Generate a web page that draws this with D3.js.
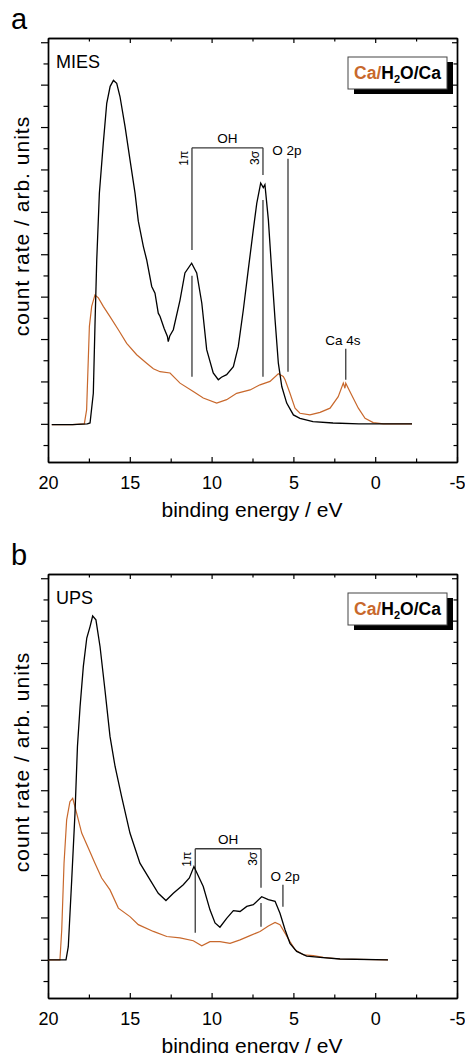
<!DOCTYPE html>
<html>
<head>
<meta charset="utf-8">
<script src="https://cdnjs.cloudflare.com/ajax/libs/d3/7.8.5/d3.min.js"></script>
<style>
    body { margin: 0; background: #fff; }
    text { font-family: "Liberation Sans", Arial, sans-serif; }
</style>
</head>
<body>
<div id="chart"></div>
<script>
// [binding energy (eV), counts (arb.)]
var miesWater = [
    [19.77, -0.02], [18.5, -0.02], [17.6, 0], [17.43, 0.02], [17.23, 0.72], [17.13, 2.3], [17.02, 3.87],
    [16.86, 5.44], [16.62, 6.62], [16.41, 7.56], [16.2, 7.96], [16.0, 8.1], [15.8, 8.03], [15.6, 7.72],
    [15.29, 7.01], [14.99, 6.23], [14.68, 5.44], [14.48, 4.78], [14.17, 4.18], [13.97, 3.87], [13.66, 3.24],
    [13.46, 3.08], [13.26, 2.61], [13.15, 2.53], [12.9, 2.25], [12.7, 2.06], [12.65, 1.94], [12.55, 2.08],
    [12.34, 2.22], [11.93, 2.92], [11.63, 3.56], [11.22, 3.79], [10.91, 3.56], [10.6, 2.85], [10.3, 1.75],
    [9.9, 1.2], [9.59, 1.04], [9.4, 1.1], [9.08, 1.16], [8.67, 1.35], [8.37, 1.82], [8.06, 2.69], [7.76, 3.63],
    [7.45, 4.58], [7.24, 5.2], [7.0, 5.68], [6.84, 5.57], [6.74, 5.64], [6.53, 4.81], [6.33, 3.63], [6.12, 2.45],
    [5.92, 1.43], [5.71, 0.88], [5.41, 0.49], [5.0, 0.21], [4.6, 0.13], [3.8, 0.05], [2.58, 0.02], [1.0, 0],
    [-2.25, 0]
];
var miesCa = [
    [19.77, -0.02], [18.5, -0.02], [17.78, 0], [17.64, 0.33], [17.47, 2.3], [17.33, 2.77], [17.13, 3.04],
    [16.92, 2.97], [16.62, 2.77], [16.21, 2.53], [15.7, 2.22], [15.19, 1.9], [14.58, 1.63], [13.97, 1.43],
    [13.56, 1.3], [13.15, 1.23], [12.54, 1.2], [11.93, 0.96], [11.12, 0.76], [10.51, 0.61], [9.69, 0.49],
    [9.08, 0.57], [8.47, 0.72], [7.65, 0.8], [7.04, 0.92], [6.43, 1.0], [5.92, 1.18], [5.62, 1.12], [5.51, 1.04],
    [5.21, 0.72], [4.9, 0.37], [4.6, 0.25], [3.99, 0.21], [3.37, 0.27], [2.76, 0.37], [2.26, 0.64], [1.95, 0.96],
    [1.85, 0.84], [1.8, 0.96], [1.44, 0.68], [1.03, 0.37], [0.62, 0.13], [0.12, 0.03], [-0.5, 0], [-2.25, 0]
];
var upsWater = [
    [20, 0], [18.9, 0], [18.76, 0.31], [18.55, 1.89], [18.35, 3.46], [18.2, 5.03], [18.04, 5.97], [17.84, 6.92],
    [17.63, 7.59], [17.43, 7.86], [17.27, 8.11], [17.07, 8.02], [16.82, 7.39], [16.52, 6.37], [16.21, 5.27],
    [15.9, 4.56], [15.5, 3.85], [14.99, 2.99], [14.38, 2.28], [13.77, 1.89], [13.26, 1.57], [12.79, 1.4],
    [12.34, 1.57], [11.73, 1.77], [11.36, 1.93], [11.08, 2.2], [10.51, 1.73], [10.1, 1.18], [9.79, 0.87],
    [9.49, 0.77], [9.08, 0.98], [8.67, 1.16], [8.26, 1.14], [7.85, 1.26], [7.45, 1.3], [6.94, 1.49], [6.53, 1.42],
    [6.12, 1.38], [5.82, 1.1], [5.51, 0.71], [5.21, 0.39], [4.8, 0.2], [4.19, 0.09], [3.37, 0.06], [2.15, 0.02],
    [-0.78, 0]
];
var upsCa = [
    [20, 0], [19.27, 0], [19.16, 0.71], [19.02, 2.28], [18.86, 3.3], [18.66, 3.73], [18.49, 3.81], [18.25, 3.46],
    [17.94, 2.99], [17.53, 2.63], [17.13, 2.28], [16.72, 1.93], [16.21, 1.65], [15.7, 1.22], [14.99, 1.02],
    [14.48, 0.83], [13.56, 0.67], [12.74, 0.55], [11.93, 0.52], [11.12, 0.45], [10.6, 0.33], [10.1, 0.43],
    [9.49, 0.43], [8.87, 0.39], [8.26, 0.47], [7.65, 0.57], [7.04, 0.67], [6.53, 0.8], [6.12, 0.88], [5.82, 0.83],
    [5.51, 0.63], [5.21, 0.43], [4.9, 0.24], [4.4, 0.12], [3.78, 0.1], [3.17, 0.06], [2.15, 0.02], [-0.78, 0]
];

var xMajor = [20, 15, 10, 5, 0, -5],
    xMinor = [17.5, 12.5, 7.5, 2.5, -2.5],
    yMajor = [0, 1, 2, 3, 4, 5, 6, 7, 8, 9],
    yMinor = [-0.5, 0.5, 1.5, 2.5, 3.5, 4.5, 5.5, 6.5, 7.5, 8.5];

// OH bracket (1pi, 3sigma) and O 2p / Ca 4s markers, energies in eV
var miesMarks = { pi: 11.2, sigma: 6.86, o2p: 5.33, ca4s: 1.8 },
    upsMarks = { pi: 11.0, sigma: 6.98, o2p: 5.64 };

var width = 465,
    height = 1053,
    orange = "#c8682c",
    markColor = "#3a3a3a";

var svg = d3.select("#chart").append("svg").attr("width", width).attr("height", height);
svg.append("rect").attr("width", width).attr("height", height).attr("fill", "#fff");

function drawPanel(top, letter, method, water, ca, marks, annot) {
    var g = svg.append("g");
    var x = d3.scaleLinear().domain([20, -5]).range([48, 457]);
    var y = d3.scaleLinear().domain([-0.9, 9.1]).range([top + 424, top]);
    var bottom = top + 424;

    // axes (frame built from the four axis domains)
    g.append("g").attr("transform", "translate(0," + bottom + ")")
        .call(d3.axisBottom(x).tickValues(xMajor).tickSize(-5).tickSizeOuter(0).tickPadding(14)
            .tickFormat(function(d) { return String(d); }))
        .call(function(s) { s.selectAll("text").style("font-size", "18px").attr("fill", "#000"); });
    g.append("g").attr("transform", "translate(0," + bottom + ")")
        .call(d3.axisBottom(x).tickValues(xMinor).tickSize(-3.5).tickSizeOuter(0).tickFormat(""));
    g.append("g").attr("transform", "translate(0," + top + ")")
        .call(d3.axisTop(x).tickValues(xMajor).tickSize(-5).tickSizeOuter(0).tickFormat(""));
    g.append("g").attr("transform", "translate(0," + top + ")")
        .call(d3.axisTop(x).tickValues(xMinor).tickSize(-3.5).tickSizeOuter(0).tickFormat(""));
    g.append("g").attr("transform", "translate(48,0)")
        .call(d3.axisLeft(y).tickValues(yMajor).tickSize(7).tickSizeOuter(0).tickFormat(""));
    g.append("g").attr("transform", "translate(48,0)")
        .call(d3.axisLeft(y).tickValues(yMinor).tickSize(4.5).tickSizeOuter(0).tickFormat(""));
    g.append("g").attr("transform", "translate(457,0)")
        .call(d3.axisRight(y).tickValues(yMajor).tickSize(-5).tickSizeOuter(0).tickFormat(""));
    g.append("g").attr("transform", "translate(457,0)")
        .call(d3.axisRight(y).tickValues(yMinor).tickSize(-3.5).tickSizeOuter(0).tickFormat(""));
    g.selectAll(".domain").attr("stroke-width", 1.4);
    g.selectAll(".tick line").attr("stroke-width", 1.2);

    // annotation lines
    var seg = function(e, v0, v1) {
        g.append("line").attr("x1", x(e)).attr("x2", x(e)).attr("y1", y(v0)).attr("y2", y(v1))
            .attr("stroke", markColor).attr("stroke-width", 1.3);
    };
    g.append("line").attr("x1", x(marks.pi)).attr("x2", x(marks.sigma))
        .attr("y1", y(annot.bracket)).attr("y2", y(annot.bracket))
        .attr("stroke", markColor).attr("stroke-width", 1.3);
    annot.piSegs.forEach(function(s) { seg(marks.pi, s[0], s[1]); });
    annot.sigmaSegs.forEach(function(s) { seg(marks.sigma, s[0], s[1]); });
    seg(marks.o2p, annot.o2p[0], annot.o2p[1]);
    if (marks.ca4s) seg(marks.ca4s, 1.77, 1.04);

    // spectra
    var line = d3.line().x(function(d) { return x(d[0]); }).y(function(d) { return y(d[1]); });
    g.append("path").datum(ca).attr("d", line).attr("fill", "none").attr("stroke", orange).attr("stroke-width", 1.2);
    g.append("path").datum(water).attr("d", line).attr("fill", "none").attr("stroke", "#000").attr("stroke-width", 1.3);

    // annotation labels
    g.append("text").attr("x", x((marks.pi + marks.sigma) / 2)).attr("y", y(annot.bracket) - 5)
        .attr("text-anchor", "middle").style("font-size", "13.5px").text("OH");
    g.append("text").attr("x", x(annot.o2pLabel[0])).attr("y", y(annot.o2pLabel[1]))
        .attr("text-anchor", "middle").style("font-size", "13.5px").text("O 2p");
    g.append("text").attr("transform", "translate(" + (x(marks.pi) - 4) + "," + (y(annot.bracket) + 3) + ") rotate(-90)")
        .attr("text-anchor", "end").style("font-size", "12px").text("1π");
    g.append("text").attr("transform", "translate(" + (x(marks.sigma) - 4) + "," + (y(annot.bracket) + 3) + ") rotate(-90)")
        .attr("text-anchor", "end").style("font-size", "12px").text("3σ");
    if (marks.ca4s) {
        g.append("text").attr("x", x(1.97)).attr("y", y(1.86))
            .attr("text-anchor", "middle").style("font-size", "13.5px").text("Ca 4s");
    }

    // panel letter, method, axis titles
    svg.append("text").attr("x", 11).attr("y", top - 9).style("font-size", "29px").text(letter);
    g.append("text").attr("x", 56).attr("y", top + 30).style("font-size", "18px").text(method);
    g.append("text").attr("x", 252).attr("y", top + 479).attr("text-anchor", "middle")
        .style("font-size", "21px").text("binding energy / eV");
    g.append("text").attr("transform", "translate(29," + (top + 188) + ") rotate(-90)")
        .attr("text-anchor", "middle").style("font-size", "21px").style("letter-spacing", "1px")
        .text("count rate / arb. units");

    // legend box with drop shadow
    g.append("rect").attr("x", 354).attr("y", top + 24).attr("width", 99).attr("height", 32).attr("fill", "#000");
    g.append("rect").attr("x", 348).attr("y", top + 19).attr("width", 99).attr("height", 32)
        .attr("fill", "#fff").attr("stroke", "#444").attr("stroke-width", 1);
    var lt = g.append("text").attr("x", 397.5).attr("y", top + 40.5).attr("text-anchor", "middle")
        .style("font-size", "17.5px").style("font-weight", "bold");
    lt.append("tspan").attr("fill", orange).text("Ca/");
    lt.append("tspan").text("H");
    lt.append("tspan").attr("dy", 4).style("font-size", "11px").text("2");
    lt.append("tspan").attr("dy", -4).text("O/Ca");
}

drawPanel(38, "a", "MIES", miesWater, miesCa, miesMarks, {
    bracket: 6.51,
    piSegs: [[6.51, 4.1], [3.49, 1.11]],
    sigmaSegs: [[6.51, 5.87], [5.28, 1.11]],
    o2p: [6.25, 1.23],
    o2pLabel: [5.4, 6.34]
});
drawPanel(574, "b", "UPS", upsWater, upsCa, upsMarks, {
    bracket: 2.62,
    piSegs: [[2.62, 0.64]],
    sigmaSegs: [[2.62, 1.7], [1.34, 0.78]],
    o2p: [1.77, 1.25],
    o2pLabel: [5.51, 1.86]
});
</script>
</body>
</html>
